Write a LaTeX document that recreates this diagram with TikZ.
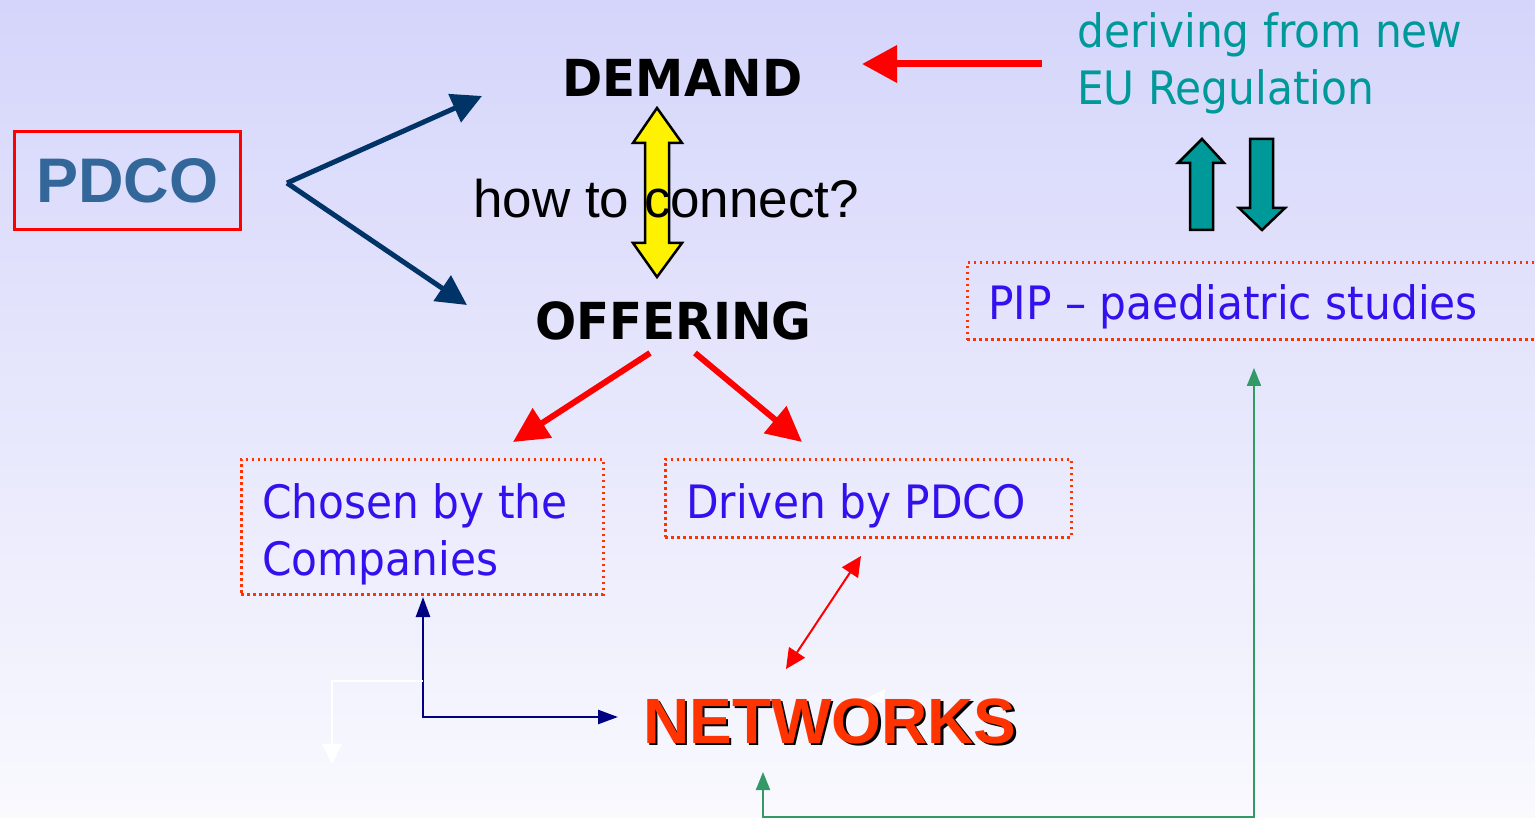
\documentclass[tikz,border=0pt]{standalone}
\usepackage{fontspec}
\usetikzlibrary{arrows.meta}
\newfontfamily\tahfont[FakeStretch=0.92]{DejaVu Sans}
\newfontfamily\verdfont[FakeStretch=0.95]{DejaVu Sans}
\newfontfamily\arialfont{Liberation Sans}
\definecolor{bgtop}{RGB}{213,213,251}
\definecolor{bgbot}{RGB}{249,249,254}
\definecolor{pdcoblue}{RGB}{51,102,153}
\definecolor{darknavy}{RGB}{0,51,102}
\definecolor{navy}{RGB}{0,0,128}
\definecolor{tealc}{RGB}{0,153,153}
\definecolor{bluetxt}{RGB}{51,17,238}
\definecolor{dotred}{RGB}{255,51,0}
\definecolor{netred}{RGB}{255,51,0}
\definecolor{greenc}{RGB}{51,153,102}
\begin{document}
\begin{tikzpicture}[x=1pt,y=-1pt,
  dotbox/.style={draw=dotred, line width=3pt, dash pattern=on 2.5pt off 3.5pt, inner sep=0pt},
  bluetext/.style={font=\tahfont\fontsize{46}{57}\selectfont, text=bluetxt, inner sep=0pt, align=left},
  tealtext/.style={font=\tahfont\fontsize{46}{57}\selectfont, text=tealc, inner sep=0pt, align=left},
  bigbold/.style={font=\verdfont\bfseries\fontsize{51}{60}\selectfont, text=black, inner sep=0pt},
  fatarrow/.style={draw=darknavy, line width=5pt, -{Triangle[length=30pt,width=30pt]}},
  redarrow/.style={draw=red, line width=6pt, -{Triangle[length=35pt,width=34pt]}},
  thinred/.style={draw=red, line width=2pt, {Triangle[length=20pt,width=19pt]}-{Triangle[length=20pt,width=19pt]}},
  navyarrow/.style={draw=navy, line width=2.5pt, {Triangle[length=20pt,width=14pt]}-{Triangle[length=20pt,width=14pt]}},
  greenarrow/.style={draw=greenc, line width=2pt, {Triangle[length=18pt,width=14pt]}-{Triangle[length=18pt,width=14pt]}},
  whitearrow/.style={draw=white, line width=2pt, -{Triangle[length=20pt,width=19pt]}},
  blockarrow/.style={draw=black, line width=2.5pt, line join=miter}
]
\useasboundingbox (0,0) rectangle (1535,818);
\clip (0,0) rectangle (1535,818);
\shade[top color=bgtop, bottom color=bgbot] (0,0) rectangle (1535,818);

% PDCO
\node[draw=red, line width=3pt, minimum width=226pt, minimum height=98pt, inner sep=0pt,
      font=\arialfont\bfseries\fontsize{63}{70}\selectfont, text=pdcoblue] (pdco) at (127.5,180.5) {PDCO};

% Demand / offering
\node[bigbold, anchor=base] (demand) at (682.5,97) {DEMAND};
\node[bigbold, anchor=base] (offering) at (673.5,340) {OFFERING};

% yellow double arrow
\fill[yellow] (657,108) -- (682,143) -- (669,143) -- (669,243) -- (682,243) -- (657,277)
  -- (633,243) -- (645,243) -- (645,143) -- (633,143) -- cycle;
\draw[blockarrow] (657,108) -- (682,143) -- (669,143) -- (669,243) -- (682,243) -- (657,277)
  -- (633,243) -- (645,243) -- (645,143) -- (633,143) -- cycle;

\node[font=\arialfont\fontsize{53}{60}\selectfont, inner sep=0pt, anchor=base west] (howto) at (473,218) {how to connect?};

% PDCO fork arrows
\coordinate (fork) at (287,183);
\coordinate (demandIn) at (482,96);
\coordinate (offerIn) at (467,305);
\draw[fatarrow] (fork) -- (demandIn);
\draw[fatarrow] (fork) -- (offerIn);

% deriving text
\node[tealtext, anchor=north west] (deriving) at (1077,12) {deriving from new\\EU Regulation};
\coordinate (derivOut) at (1042,64);
\coordinate (demandRight) at (862,64);
\draw[draw=red, line width=7pt, -{Triangle[length=35pt,width=36pt]}] (derivOut) -- (demandRight);

% teal arrows
\filldraw[fill=tealc, blockarrow] (1202,139) -- (1224,163) -- (1213,163) -- (1213,230) -- (1190,230) -- (1190,163) -- (1178,163) -- cycle;
\filldraw[fill=tealc, blockarrow] (1250,139) -- (1273,139) -- (1273,208) -- (1285,208) -- (1262,230) -- (1239,208) -- (1250,208) -- cycle;

% PIP box
\node[dotbox, minimum width=578pt, minimum height=77pt] (pip) at (1256,301.5) {};
\node[bluetext, anchor=base west] (piptext) at (988,320) {PIP – paediatric studies};

% offering arrows
\coordinate (offL) at (650,353);
\coordinate (offR) at (695,353);
\coordinate (chosenIn) at (513,442);
\coordinate (drivenIn) at (802,442);
\draw[redarrow] (offL) -- (chosenIn);
\draw[redarrow] (offR) -- (drivenIn);

% boxes
\node[dotbox, minimum width=362pt, minimum height=135pt] (chosen) at (422,526.5) {};
\node[bluetext, anchor=north west] (chosentext) at (262,483) {Chosen by the\\Companies};
\node[dotbox, minimum width=406pt, minimum height=78pt] (driven) at (868,498) {};
\node[bluetext, anchor=base west] (driventext) at (686,518) {Driven by PDCO};

% networks
\node[font=\arialfont\bfseries\fontsize{64}{70}\selectfont, text=black, inner sep=0pt, anchor=base west] (netshadow) at (645.5,745.5) {NETWORKS};
\node[font=\arialfont\bfseries\fontsize{64}{70}\selectfont, text=netred, inner sep=0pt, anchor=base west] (networks) at (643,743) {NETWORKS};
\fill[white] (865,699) -- (885,689) -- (883,703) -- cycle;

% red thin double arrow
\coordinate (drivenOut) at (861,556);
\coordinate (netTop) at (786,669);
\draw[thinred] (drivenOut) -- (netTop);

% navy elbow
\coordinate (chosenOut) at (423,597);
\coordinate (netLeft) at (618,717);
\draw[navyarrow] (chosenOut) |- (netLeft);

% white elbow
\coordinate (wStart) at (423,681);
\coordinate (wEnd) at (332,764);
\draw[whitearrow] (wStart) -| (wEnd);

% green elbow
\coordinate (netBottom) at (763,772);
\coordinate (pipBottom) at (1254,368);
\draw[greenarrow] (netBottom) -- (763,817) -| (pipBottom);
\end{tikzpicture}
\end{document}
